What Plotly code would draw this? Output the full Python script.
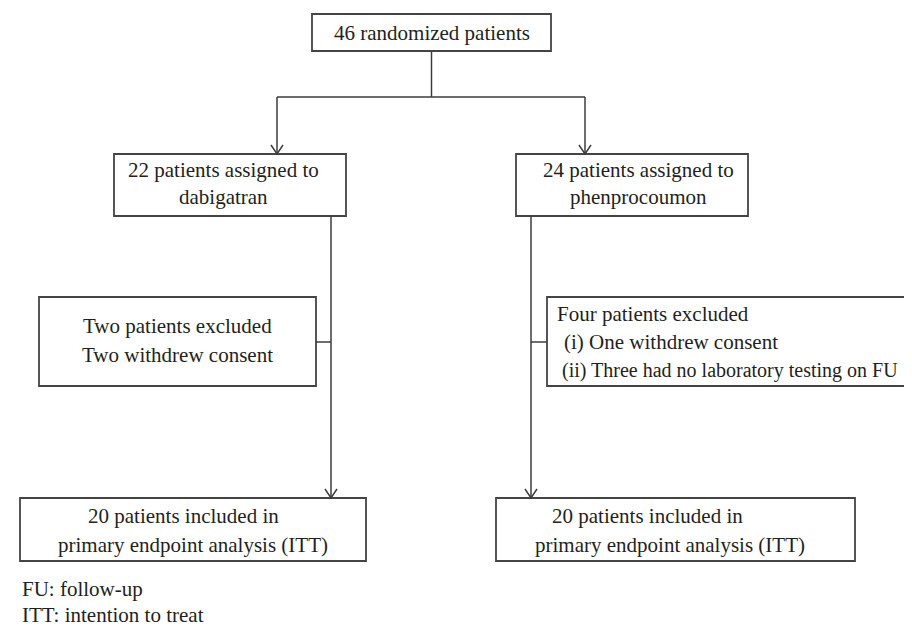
import plotly.graph_objects as go

# ---------------- content (text of the flow diagram) ----------------
top_label = "46 randomized patients"
arm_labels = [["22 patients assigned to", "dabigatran"],
              ["24 patients assigned to", "phenprocoumon"]]
excl_left_lines = ["Two patients excluded", "Two withdrew consent"]
excl_right_lines = ["Four patients excluded",
                    "(i) One withdrew consent",
                    "(ii) Three had no laboratory testing on FU"]
final_lines = ["20 patients included in", "primary endpoint analysis (ITT)"]
footnotes = ["FU: follow-up", "ITT: intention to treat"]

# ---------------- layout geometry (pixel-like canvas units) ----------------
W, H = 912, 628
boxes = {
    "top":  (304, 6, 543, 43),
    "armL": (106, 146, 338, 208),
    "armR": (508, 146, 740, 208),
    "exL":  (31, 289, 308, 378),
    "exR":  (539, 289, 930, 378),
    "finL": (12, 490, 358, 553),
    "finR": (488, 490, 847, 553),
}
split_y = 89
arm_arrow_x = [269, 577]
trunk_x = [323, 523]
connector_y = 334

FONT = dict(family="Liberation Serif", size=21, color="#231f20")
LINE = dict(color="#3c3c3c", width=1.5)
BOX_LINE = dict(color="#444444", width=1.8)

fig = go.Figure()
shapes = []
for name, (x0, y0, x1, y1) in boxes.items():
    shapes.append(dict(type="rect", xref="x", yref="y", x0=x0, y0=y0, x1=x1, y1=y1,
                       line=BOX_LINE, fillcolor="white", layer="above"))

tx0, ty0, tx1, ty1 = boxes["top"]
cx = (tx0 + tx1) / 2
paths = [
    f"M{cx},{ty1} V{split_y}",
    f"M{arm_arrow_x[0]},{split_y} H{arm_arrow_x[1]}",
]
for ax, key in zip(arm_arrow_x, ["armL", "armR"]):
    paths.append(f"M{ax},{split_y} V{boxes[key][1]}")
    tip = boxes[key][1]
    paths.append(f"M{ax-6},{tip-9} L{ax},{tip} L{ax+6},{tip-9}")
for tx, akey, fkey in zip(trunk_x, ["armL", "armR"], ["finL", "finR"]):
    paths.append(f"M{tx},{boxes[akey][3]} V{boxes[fkey][1]}")
    tip = boxes[fkey][1]
    paths.append(f"M{tx-6},{tip-9} L{tx},{tip} L{tx+6},{tip-9}")
paths.append(f"M{boxes['exL'][2]},{connector_y} H{trunk_x[0]}")
paths.append(f"M{trunk_x[1]},{connector_y} H{boxes['exR'][0]}")
for p in paths:
    shapes.append(dict(type="path", xref="x", yref="y", path=p, line=LINE, layer="above"))

ann = []
def txt(x, y, s, anchor="center", size=None):
    f = dict(FONT)
    if size:
        f["size"] = size
    ann.append(dict(x=x, y=y, xref="x", yref="y", text=s, showarrow=False,
                    xanchor=anchor, yanchor="middle", font=f))

txt(cx, 25, top_label)
for centre, lines in zip([215, 630], arm_labels):
    txt(centre, 162, lines[0])
    txt(centre, 189, lines[1])
exl = boxes["exL"]
txt((exl[0] + exl[2]) / 2, 318, excl_left_lines[0])
txt((exl[0] + exl[2]) / 2, 347, excl_left_lines[1])
txt(547, 306, excl_right_lines[0], "left")
txt(554, 334, excl_right_lines[1], "left")
txt(552, 362, excl_right_lines[2], "left", size=20)
txt(78, 508, final_lines[0], "left")
txt(48, 537, final_lines[1], "left")
txt(542, 508, final_lines[0], "left")
txt(525, 537, final_lines[1], "left")
txt(12, 581, footnotes[0], "left")
txt(12, 607, footnotes[1], "left")

fig.update_layout(
    width=W, height=H, margin=dict(l=0, r=0, t=0, b=0),
    paper_bgcolor="white", plot_bgcolor="white",
    xaxis=dict(range=[0, W], visible=False, fixedrange=True),
    yaxis=dict(range=[H, 0], visible=False, fixedrange=True),
    shapes=shapes, annotations=ann, showlegend=False,
)
fig.write_html("out.html")
